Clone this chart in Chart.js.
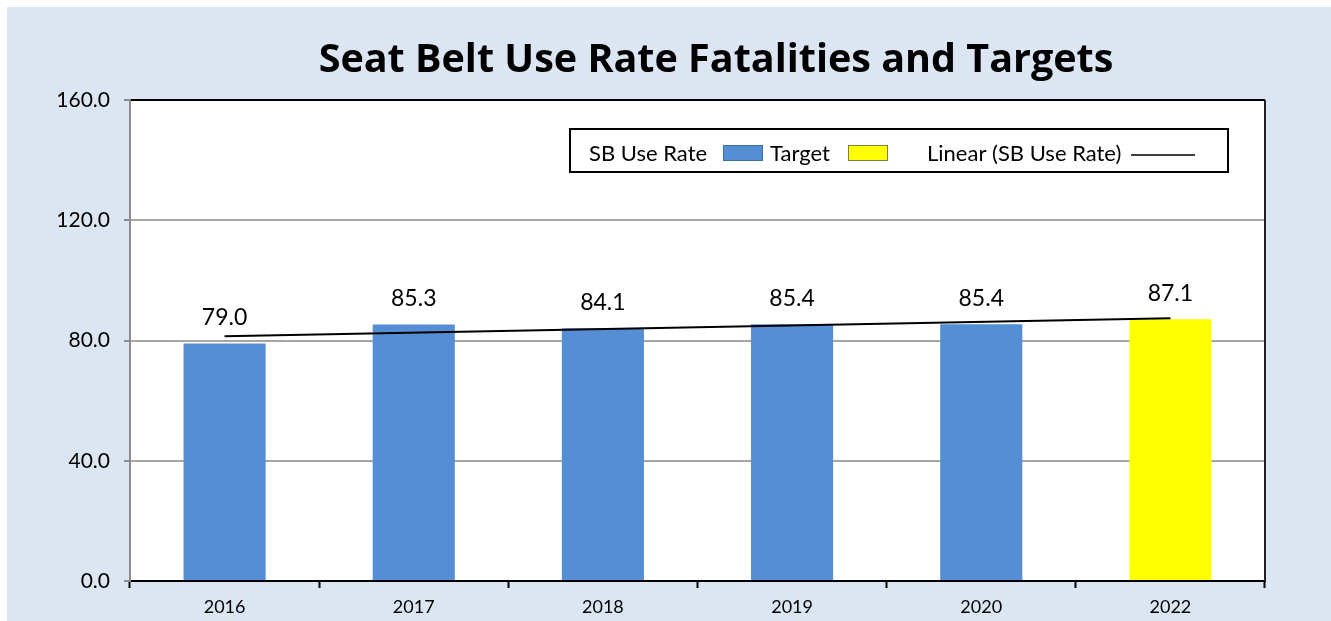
<!DOCTYPE html>
<html>
<head>
<meta charset="utf-8">
<script src="https://cdn.jsdelivr.net/npm/chart.js@4"></script>
<style>
    body { margin: 0; background: #ffffff; }
    #wrap { width: 1331px; height: 621px; position: relative; }
</style>
</head>
<body>
<div id="wrap"><canvas id="beltChart"></canvas></div>
<script>
const years = ["2016", "2017", "2018", "2019", "2020", "2022"];
const useRate = [79.0, 85.3, 84.1, 85.4, 85.4, null];
const target = [null, null, null, null, null, 87.1];
// trend line ends
const trend = [81.4, null, null, null, null, 87.4];
const yTicks = [0, 40, 80, 120, 160];

const FONT = "Lato, 'Open Sans', sans-serif";
const TITLE = "Seat Belt Use Rate Fatalities and Targets";

const backdrop = {
    id: "backdrop",
    beforeDraw(chart) {
        const ctx = chart.ctx;
        const a = chart.chartArea;
        ctx.save();
        ctx.fillStyle = "#ffffff";
        ctx.fillRect(0, 0, chart.width, chart.height);
        ctx.fillStyle = "#dce6f2";
        ctx.fillRect(7, 7, chart.width - 7, chart.height - 7);
        ctx.fillStyle = "#ffffff";
        ctx.fillRect(a.left, a.top, a.right - a.left, a.bottom - a.top);
        ctx.restore();
    },
    afterDraw(chart) {
        const ctx = chart.ctx;
        const a = chart.chartArea;
        ctx.save();
        ctx.strokeStyle = "#222222";
        ctx.lineWidth = 2;
        ctx.beginPath();
        ctx.moveTo(a.right, a.top);
        ctx.lineTo(a.right, a.bottom);
        ctx.stroke();

        // title sits right of centre in the original
        ctx.font = "bold 39.5px 'Open Sans', sans-serif";
        ctx.fillStyle = "#000000";
        ctx.textAlign = "center";
        ctx.textBaseline = "middle";
        ctx.fillText(TITLE, 716, 61);
        ctx.restore();
    }
};

const valueLabels = {
    id: "valueLabels",
    afterDatasetsDraw(chart) {
        const ctx = chart.ctx;
        ctx.save();
        ctx.font = "23px " + FONT;
        ctx.fillStyle = "#000000";
        ctx.textAlign = "center";
        ctx.textBaseline = "bottom";
        chart.data.datasets.forEach((ds, i) => {
            if (ds.type === "line") return;
            chart.getDatasetMeta(i).data.forEach((bar, j) => {
                if (ds.data[j] === null) return;
                ctx.fillText(ds.data[j].toFixed(1), bar.x, bar.y - 14);
            });
        });
        ctx.restore();
    }
};

const sideLegend = {
    id: "sideLegend",
    afterDraw(chart) {
        const ctx = chart.ctx;
        ctx.save();
        ctx.fillStyle = "#ffffff";
        ctx.fillRect(570, 129, 658, 43);
        ctx.strokeStyle = "#000000";
        ctx.lineWidth = 2;
        ctx.strokeRect(570, 129, 658, 43);

        ctx.font = "22px " + FONT;
        ctx.fillStyle = "#000000";
        ctx.textBaseline = "middle";
        ctx.textAlign = "left";
        const y = 154;
        ctx.fillText("SB Use Rate", 589, y);
        ctx.fillStyle = "#558ed5";
        ctx.fillRect(723, 145, 40, 16);
        ctx.strokeStyle = "#3d6fa8";
        ctx.lineWidth = 1;
        ctx.strokeRect(723.5, 145.5, 39, 15);

        ctx.fillStyle = "#000000";
        ctx.fillText("Target", 770, y);
        ctx.fillStyle = "#ffff00";
        ctx.fillRect(848, 145, 40, 16);
        ctx.strokeStyle = "#7f7f3f";
        ctx.strokeRect(848.5, 145.5, 39, 15);

        ctx.fillStyle = "#000000";
        ctx.fillText("Linear (SB Use Rate)", 927, y);
        ctx.strokeStyle = "#000000";
        ctx.lineWidth = 1.5;
        ctx.beginPath();
        ctx.moveTo(1131, y + 1);
        ctx.lineTo(1195, y + 1);
        ctx.stroke();
        ctx.restore();
    }
};

new Chart(document.getElementById("beltChart"), {
    type: "bar",
    data: {
        labels: years,
        datasets: [
            {
                label: "Linear (SB Use Rate)",
                type: "line",
                data: trend,
                spanGaps: true,
                borderColor: "#000000",
                borderWidth: 2,
                pointRadius: 0,
                order: 0
            },
            {
                label: "SB Use Rate",
                data: useRate,
                backgroundColor: "#558ed5",
                grouped: false,
                categoryPercentage: 1,
                barPercentage: 0.434,
                order: 1
            },
            {
                label: "Target",
                data: target,
                backgroundColor: "#ffff00",
                grouped: false,
                categoryPercentage: 1,
                barPercentage: 0.434,
                order: 1
            }
        ]
    },
    options: {
        responsive: true,
        maintainAspectRatio: false,
        animation: false,
        layout: { padding: { left: 0, right: 66, top: 100, bottom: 0 } },
        plugins: {
            legend: { display: false },
            tooltip: { enabled: false },
            title: { display: false }
        },
        scales: {
            x: {
                afterFit(scale) { scale.height = 40; },
                border: { color: "#000000", width: 2 },
                grid: {
                    drawOnChartArea: false,
                    drawTicks: true,
                    tickLength: 7,
                    tickColor: "#000000",
                    tickWidth: 2
                },
                ticks: {
                    color: "#000000",
                    padding: 8,
                    font: { family: FONT, size: 18 }
                }
            },
            y: {
                min: 0,
                max: 160,
                afterFit(scale) { scale.width = 130; },
                afterBuildTicks(scale) {
                    scale.ticks = yTicks.map(v => ({ value: v }));
                },
                border: { color: "#8c8c8c", width: 2 },
                grid: {
                    color: ctx => ctx.tick.value === 160 ? "#000000" : (ctx.tick.value === 0 ? "rgba(0,0,0,0)" : "#a6a6a6"),
                    lineWidth: 2,
                    tickLength: 6,
                    tickColor: "#8c8c8c"
                },
                ticks: {
                    color: "#000000",
                    padding: 14,
                    font: { family: FONT, size: 21 },
                    callback: v => Number(v).toFixed(1)
                }
            }
        }
    },
    plugins: [backdrop, valueLabels, sideLegend]
});
</script>
</body>
</html>
